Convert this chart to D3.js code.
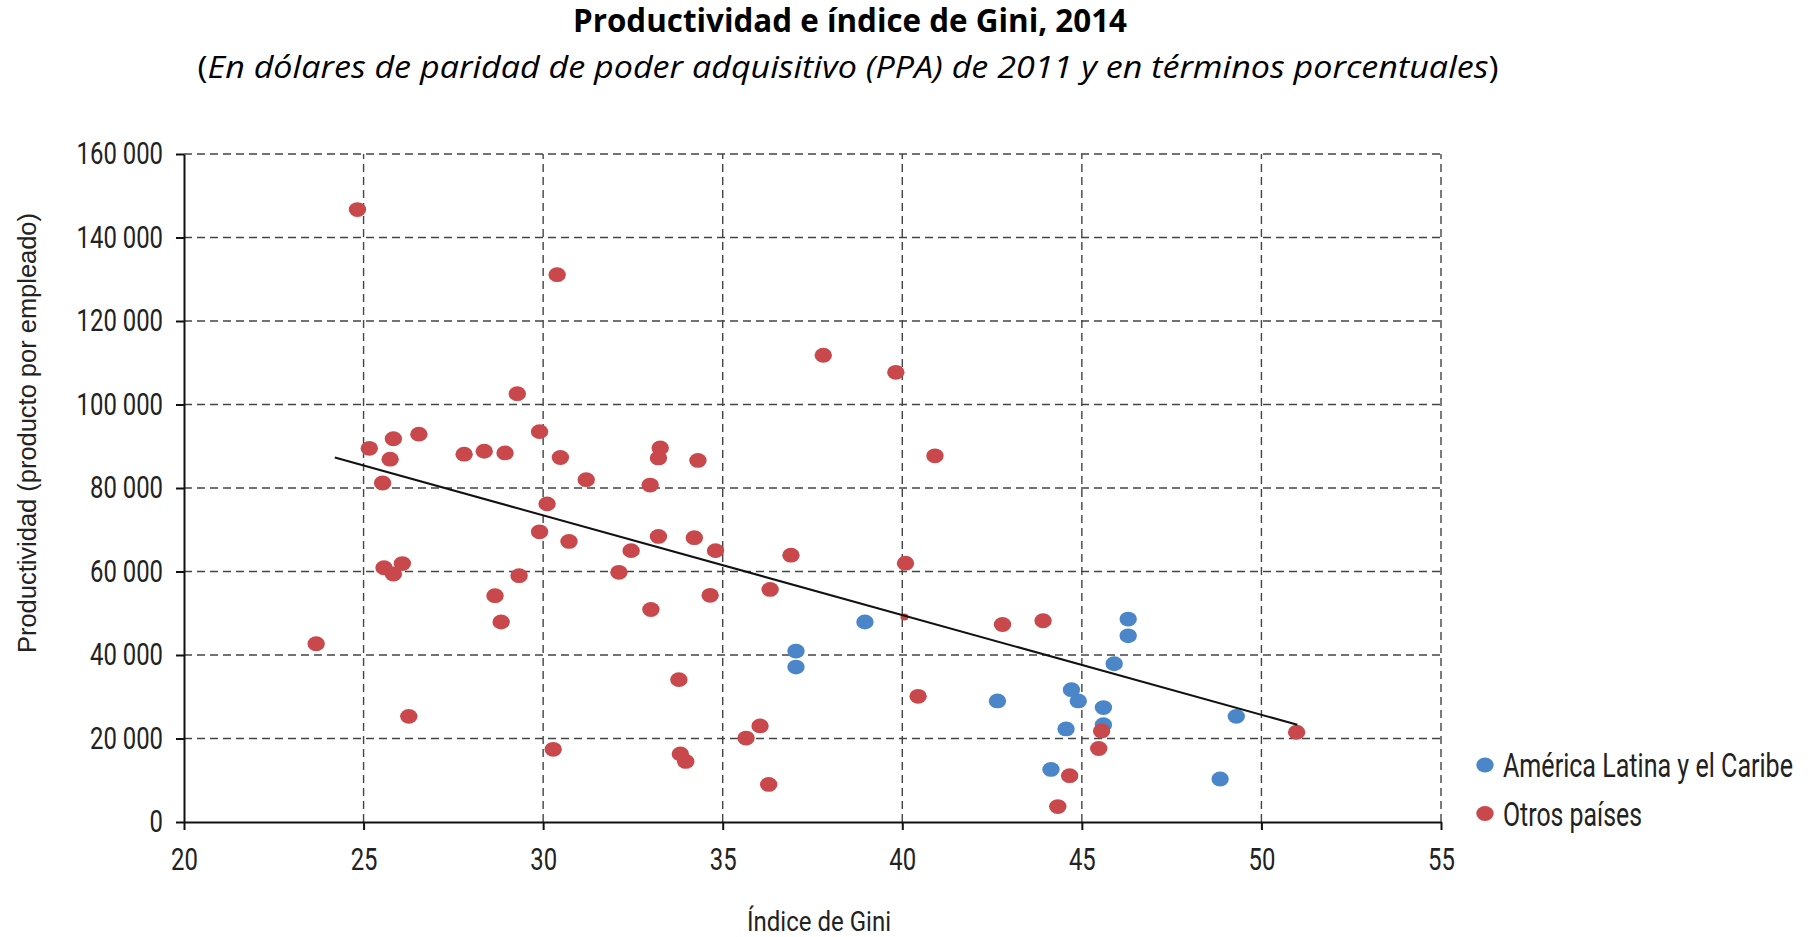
<!DOCTYPE html>
<html>
<head>
<meta charset="utf-8">
<script src="https://d3js.org/d3.v7.min.js"></script>
<style>
  body { margin: 0; background: #fff; }
  svg { display: block; }
</style>
</head>
<body>
<svg id="chart" width="1808" height="937"></svg>
<script>
// values
var latamGini = [37.04, 37.04, 38.96, 42.65, 44.14, 44.56, 44.71, 44.90, 45.60, 45.60, 45.90, 46.29, 46.29, 48.85, 49.30];
var latamProd = [40950, 37100, 47900, 29000, 12600, 22300, 31700, 29000, 27400, 23300, 37900, 48600, 44600, 10300, 25300];

var otrosGini = [23.68, 24.83, 25.16, 25.83, 25.74, 25.53, 25.57, 25.83, 26.08, 26.26, 26.54, 27.80, 28.36, 28.94,
                 28.66, 28.83, 29.28, 29.33, 29.90, 29.90, 30.11, 30.39, 30.48, 30.72, 30.28, 31.20, 32.11, 32.45,
                 32.98, 33.00, 33.26, 33.21, 33.21, 33.78, 33.82, 33.97, 34.21, 34.31, 34.65, 34.80, 35.65, 36.04,
                 36.32, 36.28, 36.90, 37.80, 39.82, 40.09, 40.44, 40.91, 42.79, 43.92, 44.33, 44.66, 45.47, 45.55, 50.98];
var otrosProd = [42700, 146700, 89500, 91800, 86900, 81200, 60900, 59400, 61900, 25300, 92900, 88100, 88800, 88400,
                 54200, 47900, 102600, 59000, 93500, 69500, 76200, 131100, 87300, 67200, 17400, 82000, 59800, 65000,
                 80700, 50900, 89600, 87200, 68400, 34100, 16300, 14500, 68100, 86600, 54300, 65000, 20100, 23000,
                 55700, 9000, 63900, 111800, 107700, 62000, 30100, 87700, 47300, 48200, 3700, 11100, 17600, 21800, 21500];
// one point mostly hidden under the trend line (drawn small in the original)
var otrosSmallGini = [40.06];
var otrosSmallProd = [49100];

var trendGini = [24.2, 51.0];
var trendProd = [87300, 23300];

var xTicks = [20, 25, 30, 35, 40, 45, 50, 55];
var yTicks = [0, 20000, 40000, 60000, 80000, 100000, 120000, 140000, 160000];
var seriesNames = ["América Latina y el Caribe", "Otros países"];
var seriesColors = ["#4a86c8", "#c9484b"];

function draw() {
  var svg = d3.select("#chart");
  var plotLeft = 184, plotRight = 1441, plotTop = 154, plotBottom = 822;
  var sx = 0.77; // the original uses a condensed face
  var rx = 8.7, ry = 7.4;

  var x = d3.scaleLinear().domain([20, 55]).range([plotLeft, plotRight]);
  var y = d3.scaleLinear().domain([0, 160000]).range([plotBottom, plotTop]);
  var fmt = d3.formatLocale({decimal: ",", thousands: " ", grouping: [3], currency: ["", ""]}).format(",");

  // titles
  svg.append("text")
    .attr("x", 850).attr("y", 32)
    .attr("text-anchor", "middle")
    .attr("font-family", "Open Sans").attr("font-weight", "bold").attr("font-size", 32)
    .attr("textLength", 554).attr("lengthAdjust", "spacingAndGlyphs")
    .text("Productividad e índice de Gini, 2014");

  var sub = svg.append("text")
    .attr("x", 848).attr("y", 78)
    .attr("text-anchor", "middle")
    .attr("font-family", "Open Sans").attr("font-size", 31)
    .attr("textLength", 1301).attr("lengthAdjust", "spacingAndGlyphs");
  sub.append("tspan").text("(");
  sub.append("tspan").attr("font-style", "italic")
    .text("En dólares de paridad de poder adquisitivo (PPA) de 2011 y en términos porcentuales");
  sub.append("tspan").text(")");

  // grid
  var grid = svg.append("g")
    .attr("stroke", "#444").attr("stroke-width", 1.4).attr("stroke-dasharray", "8,5");
  grid.selectAll(".gx").data(xTicks.slice(1)).enter().append("line")
    .attr("x1", function(d) { return x(d); }).attr("x2", function(d) { return x(d); })
    .attr("y1", y(0)).attr("y2", y(160000));
  grid.selectAll(".gy").data(yTicks.slice(1)).enter().append("line")
    .attr("x1", x(20)).attr("x2", x(55))
    .attr("y1", function(d) { return y(d); }).attr("y2", function(d) { return y(d); });

  // axes
  var yAxis = svg.append("g")
    .attr("transform", "translate(" + plotLeft + ",0)")
    .call(d3.axisLeft(y).tickValues(yTicks).tickFormat(fmt).tickSize(8).tickSizeOuter(0).tickPadding(13));
  var xAxis = svg.append("g")
    .attr("transform", "translate(0," + plotBottom + ")")
    .call(d3.axisBottom(x).tickValues(xTicks).tickSize(8).tickSizeOuter(0).tickPadding(18));

  [yAxis, xAxis].forEach(function(ax) {
    ax.select(".domain").attr("stroke", "#111").attr("stroke-width", 2);
    ax.selectAll(".tick line").attr("stroke", "#111").attr("stroke-width", 2);
    ax.selectAll(".tick text")
      .attr("font-family", "Roboto").attr("font-size", 31).attr("fill", "#222")
      .attr("transform", "scale(" + sx + ",1)");
  });
  yAxis.selectAll(".tick text").attr("x", -21 / sx);

  // axis titles
  svg.append("text")
    .attr("transform", "translate(36,433) rotate(-90)")
    .attr("text-anchor", "middle")
    .attr("font-family", "Liberation Sans").attr("font-size", 25.5).attr("fill", "#222")
    .attr("textLength", 440).attr("lengthAdjust", "spacingAndGlyphs")
    .text("Productividad (producto por empleado)");

  svg.append("text")
    .attr("x", 819).attr("y", 931)
    .attr("text-anchor", "middle")
    .attr("font-family", "Roboto").attr("font-size", 28).attr("fill", "#222")
    .attr("textLength", 144).attr("lengthAdjust", "spacingAndGlyphs")
    .text("Índice de Gini");

  // points
  var plot = svg.append("g");
  plot.selectAll(".latam").data(d3.range(latamGini.length)).enter().append("ellipse")
    .attr("cx", function(i) { return x(latamGini[i]); })
    .attr("cy", function(i) { return y(latamProd[i]); })
    .attr("rx", rx).attr("ry", ry)
    .attr("fill", seriesColors[0]);
  plot.selectAll(".otros").data(d3.range(otrosGini.length)).enter().append("ellipse")
    .attr("cx", function(i) { return x(otrosGini[i]); })
    .attr("cy", function(i) { return y(otrosProd[i]); })
    .attr("rx", rx).attr("ry", ry)
    .attr("fill", seriesColors[1]);
  plot.selectAll(".otrosSmall").data(d3.range(otrosSmallGini.length)).enter().append("ellipse")
    .attr("cx", function(i) { return x(otrosSmallGini[i]); })
    .attr("cy", function(i) { return y(otrosSmallProd[i]); })
    .attr("rx", 4).attr("ry", 3.5)
    .attr("fill", seriesColors[1]);

  // trend line
  svg.append("line")
    .attr("x1", x(trendGini[0])).attr("y1", y(trendProd[0]))
    .attr("x2", x(trendGini[1])).attr("y2", y(trendProd[1]))
    .attr("stroke", "#111").attr("stroke-width", 2);

  // legend
  var legendLen = [290, 139];
  var legend = svg.append("g");
  seriesNames.forEach(function(name, i) {
    var cy = 765 + i * 48.5;
    legend.append("ellipse")
      .attr("cx", 1485).attr("cy", cy).attr("rx", rx).attr("ry", ry)
      .attr("fill", seriesColors[i]);
    legend.append("text")
      .attr("x", 1503).attr("y", cy + 12)
      .attr("font-family", "Roboto").attr("font-size", 33).attr("fill", "#222")
      .attr("textLength", legendLen[i]).attr("lengthAdjust", "spacingAndGlyphs")
      .text(name);
  });
}

draw();
</script>
</body>
</html>
